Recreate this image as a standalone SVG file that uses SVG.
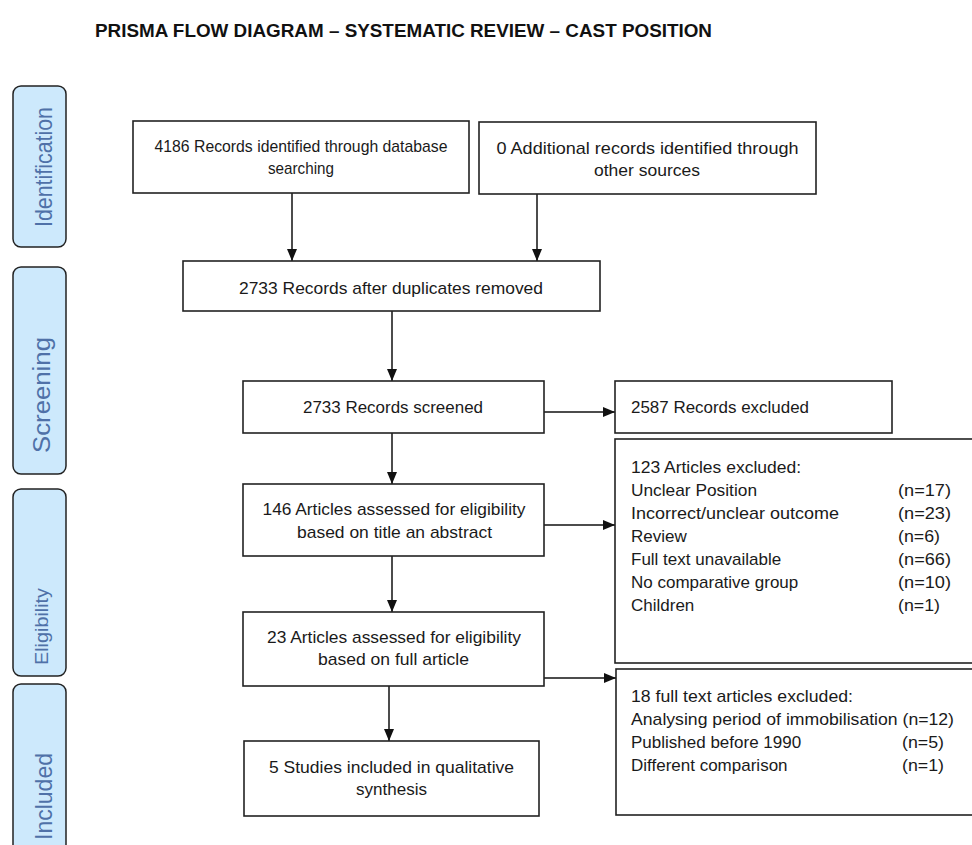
<svg xmlns="http://www.w3.org/2000/svg" width="972" height="845" viewBox="0 0 972 845">
<defs>
<style>
.bx{fill:#fff;stroke:#222;stroke-width:1.6}
.pill{fill:#cde9fc;stroke:#222;stroke-width:1.5}
.t{font-family:"Liberation Sans",Arial,sans-serif;font-size:17px;fill:#1a1a1a}
.c{text-anchor:middle}
.pt{font-family:"Liberation Sans",Arial,sans-serif;fill:#4f71a8;text-anchor:middle}
.ln{stroke:#111;stroke-width:1.5;fill:none;marker-end:url(#ah)}
</style>
<marker id="ah" markerUnits="userSpaceOnUse" markerWidth="12" markerHeight="10" refX="12" refY="5" orient="auto">
<path d="M0,0 L12,5 L0,10 z" fill="#111"/>
</marker>
</defs>
<rect width="972" height="845" fill="#fff"/>
<text x="95" y="37" font-family="Liberation Sans,Arial,sans-serif" font-weight="bold" font-size="17.5" fill="#111" textLength="617" lengthAdjust="spacingAndGlyphs">PRISMA FLOW DIAGRAM – SYSTEMATIC REVIEW – CAST POSITION</text>

<g id="stage-identification">
<rect class="pill" x="13" y="86" width="53" height="161" rx="8"/>
<text class="pt" font-size="24" transform="translate(52,167) rotate(-90)" textLength="120" lengthAdjust="spacingAndGlyphs">Identification</text>
</g>
<g id="stage-screening">
<rect class="pill" x="13" y="267" width="53" height="207" rx="8"/>
<text class="pt" font-size="23" transform="translate(50,395) rotate(-90)" textLength="116" lengthAdjust="spacingAndGlyphs">Screening</text>
</g>
<g id="stage-eligibility">
<rect class="pill" x="13" y="489" width="53" height="187" rx="8"/>
<text class="pt" font-size="19" transform="translate(48,626.5) rotate(-90)" textLength="77" lengthAdjust="spacingAndGlyphs">Eligibility</text>
</g>
<g id="stage-included">
<rect class="pill" x="13" y="684" width="53" height="200" rx="8"/>
<text class="pt" font-size="24" transform="translate(52,796.5) rotate(-90)" textLength="87" lengthAdjust="spacingAndGlyphs">Included</text>
</g>

<g id="connectors">
<line class="ln" x1="292" y1="193" x2="292" y2="261"/>
<line class="ln" x1="537" y1="194" x2="537" y2="261"/>
<line class="ln" x1="392" y1="311" x2="392" y2="381"/>
<line class="ln" x1="544" y1="412" x2="615" y2="412"/>
<line class="ln" x1="392" y1="433" x2="392" y2="484"/>
<line class="ln" x1="544" y1="525" x2="615" y2="525"/>
<line class="ln" x1="392" y1="556" x2="392" y2="612"/>
<line class="ln" x1="544" y1="678" x2="616" y2="678"/>
<line class="ln" x1="389" y1="686" x2="389" y2="741"/>
</g>

<g id="n-database">
<rect class="bx" x="133" y="121" width="336" height="72"/>
<text class="t c" x="301" y="152" textLength="293" lengthAdjust="spacingAndGlyphs">4186 Records identified through database</text>
<text class="t c" x="301" y="174" textLength="66" lengthAdjust="spacingAndGlyphs">searching</text>
</g>
<g id="n-other">
<rect class="bx" x="479" y="122" width="337" height="72"/>
<text class="t c" x="647.5" y="154" textLength="302" lengthAdjust="spacingAndGlyphs">0 Additional records identified through</text>
<text class="t c" x="647" y="176" textLength="106" lengthAdjust="spacingAndGlyphs">other sources</text>
</g>
<g id="n-duplicates">
<rect class="bx" x="183" y="261" width="417" height="50"/>
<text class="t c" x="391" y="294" textLength="304" lengthAdjust="spacingAndGlyphs">2733 Records after duplicates removed</text>
</g>
<g id="n-screened">
<rect class="bx" x="243" y="381" width="301" height="52"/>
<text class="t c" x="393" y="413" textLength="180" lengthAdjust="spacingAndGlyphs">2733 Records screened</text>
</g>
<g id="n-excluded">
<rect class="bx" x="615" y="381" width="277" height="52"/>
<text class="t" x="631" y="413" textLength="178" lengthAdjust="spacingAndGlyphs">2587 Records excluded</text>
</g>
<g id="n-title-abstract">
<rect class="bx" x="243" y="484" width="301" height="72"/>
<text class="t c" x="394" y="515" textLength="263" lengthAdjust="spacingAndGlyphs">146 Articles assessed for eligibility</text>
<text class="t c" x="394.5" y="538" textLength="195" lengthAdjust="spacingAndGlyphs">based on title an abstract</text>
</g>
<g id="n-articles-excluded">
<rect class="bx" x="615" y="439" width="400" height="224"/>
<text class="t" x="631" y="473" textLength="170" lengthAdjust="spacingAndGlyphs">123 Articles excluded:</text>
<text class="t" x="631" y="496" textLength="126" lengthAdjust="spacingAndGlyphs">Unclear Position</text>
<text class="t" x="898" y="496" textLength="53" lengthAdjust="spacingAndGlyphs">(n=17)</text>
<text class="t" x="631" y="519" textLength="208" lengthAdjust="spacingAndGlyphs">Incorrect/unclear outcome</text>
<text class="t" x="898" y="519" textLength="53" lengthAdjust="spacingAndGlyphs">(n=23)</text>
<text class="t" x="631" y="542">Review</text>
<text class="t" x="898" y="542" textLength="42" lengthAdjust="spacingAndGlyphs">(n=6)</text>
<text class="t" x="631" y="565">Full text unavailable</text>
<text class="t" x="898" y="565" textLength="53" lengthAdjust="spacingAndGlyphs">(n=66)</text>
<text class="t" x="631" y="588">No comparative group</text>
<text class="t" x="898" y="588" textLength="53" lengthAdjust="spacingAndGlyphs">(n=10)</text>
<text class="t" x="631" y="611">Children</text>
<text class="t" x="898" y="611" textLength="42" lengthAdjust="spacingAndGlyphs">(n=1)</text>
</g>
<g id="n-full-article">
<rect class="bx" x="243" y="612" width="301" height="74"/>
<text class="t c" x="394" y="643" textLength="254" lengthAdjust="spacingAndGlyphs">23 Articles assessed for eligibility</text>
<text class="t c" x="393.5" y="665" textLength="151" lengthAdjust="spacingAndGlyphs">based on full article</text>
</g>
<g id="n-fulltext-excluded">
<rect class="bx" x="616" y="669" width="400" height="146"/>
<text class="t" x="631" y="702" textLength="222" lengthAdjust="spacingAndGlyphs">18 full text articles excluded:</text>
<text class="t" x="631" y="725" textLength="323" lengthAdjust="spacingAndGlyphs">Analysing period of immobilisation (n=12)</text>
<text class="t" x="631" y="748">Published before 1990</text>
<text class="t" x="902" y="748" textLength="42" lengthAdjust="spacingAndGlyphs">(n=5)</text>
<text class="t" x="631" y="771">Different comparison</text>
<text class="t" x="902" y="771" textLength="42" lengthAdjust="spacingAndGlyphs">(n=1)</text>
</g>
<g id="n-included">
<rect class="bx" x="244" y="741" width="295" height="75"/>
<text class="t c" x="391.5" y="773" textLength="245" lengthAdjust="spacingAndGlyphs">5 Studies included in qualitative</text>
<text class="t c" x="391.5" y="795" textLength="71" lengthAdjust="spacingAndGlyphs">synthesis</text>
</g>
</svg>
